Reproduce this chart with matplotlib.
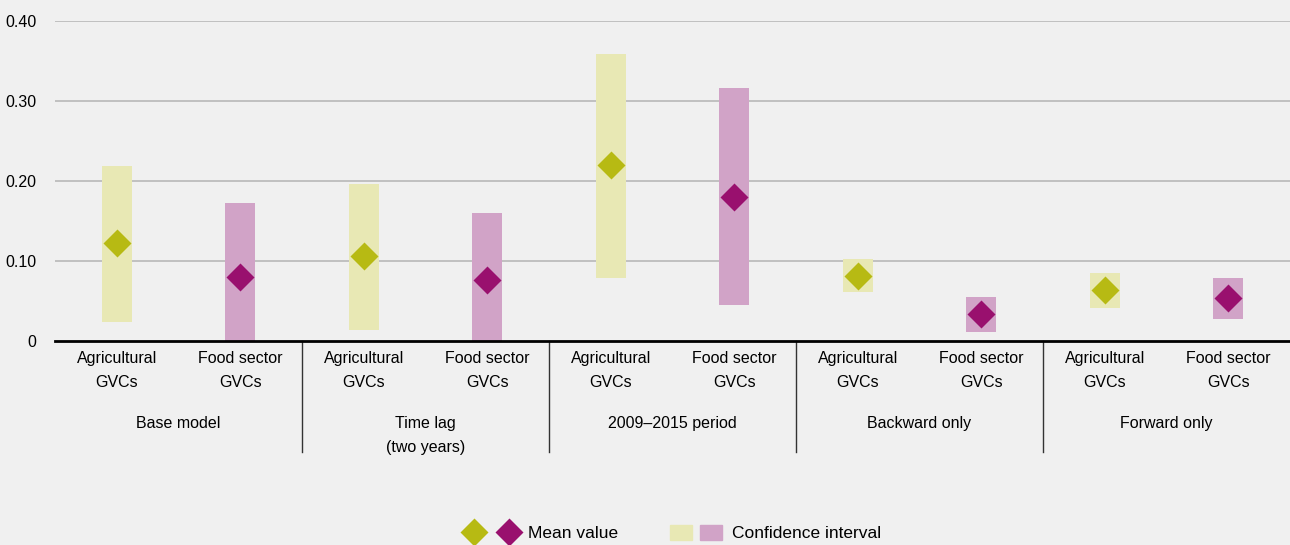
import numpy as np
import matplotlib
matplotlib.use("Agg")
import matplotlib.pyplot as plt
from matplotlib.lines import Line2D
from matplotlib.patches import Patch
from matplotlib.legend_handler import HandlerTuple

plt.rcParams["font.family"] = ["Liberation Sans", "DejaVu Sans"]

groups = ["Base model", "Time lag\n(two years)", "2009\u20132015 period", "Backward only", "Forward only"]
sectors = ["Agricultural\nGVCs", "Food sector\nGVCs"]

# mean values and confidence interval bounds, per group: [agricultural, food]
mean_val = [[0.122, 0.080], [0.106, 0.076], [0.220, 0.180], [0.081, 0.033], [0.063, 0.053]]
ci_low = [[0.024, 0.0], [0.013, 0.0], [0.078, 0.045], [0.061, 0.011], [0.041, 0.027]]
ci_high = [[0.218, 0.172], [0.196, 0.160], [0.358, 0.316], [0.102, 0.055], [0.085, 0.078]]

bg = "#f0f0f0"
mean_col = ["#b7ba13", "#99106e"]
ci_col = ["#e8e8b4", "#d1a3c7"]

fig = plt.figure(figsize=(12.9, 5.45), dpi=100, facecolor=bg)
ax = fig.add_axes([55 / 1290, 1 - 340.7 / 545, 1 - 55 / 1290, 320 / 545])
ax.set_facecolor(bg)

for g in range(len(groups)):
    for s in range(2):
        x = 2 * g + s + 0.5
        ax.bar(x, ci_high[g][s] - ci_low[g][s], bottom=ci_low[g][s], width=0.245,
               color=ci_col[s], zorder=2)
        ax.plot(x, mean_val[g][s], marker="D", ms=14.5, color=mean_col[s],
                mec="none", zorder=3)

ax.set_xlim(0, 10)
ax.set_ylim(0, 0.4)
ax.set_yticks([0, 0.1, 0.2, 0.3, 0.4])
ax.set_yticklabels(["0", "0.10", "0.20", "0.30", "0.40"])
ax.tick_params(axis="y", length=0, pad=13.5, labelsize=11.5)
ax.set_xticks([])
for sp in ax.spines.values():
    sp.set_visible(False)
for yv in [0.1, 0.2, 0.3, 0.4]:
    ax.axhline(yv, color="#b3b3b3", lw=1.1, zorder=1)
ax.axhline(0, color="black", lw=2, zorder=4, clip_on=False)

tr = ax.get_xaxis_transform()
for g in range(len(groups)):
    for s in range(2):
        ax.text(2 * g + s + 0.5, -0.092, sectors[s], transform=tr, ha="center",
                va="center", fontsize=11.5, linespacing=1.75)
    ax.text(2 * g + 1, -0.234, groups[g], transform=tr, ha="center", va="top",
            fontsize=11.5, linespacing=1.75)
for xs in [2, 4, 6, 8]:
    ax.plot([xs, xs], [0, -0.348], transform=tr, color="#333333", lw=1,
            clip_on=False)

mean_h = (Line2D([], [], ls="none", marker="D", ms=14, color=mean_col[0], mec="none"),
          Line2D([], [], ls="none", marker="D", ms=14, color=mean_col[1], mec="none"))
ci_h = (Patch(color=ci_col[0]), Patch(color=ci_col[1]))
fig.legend([mean_h, ci_h], ["Mean value", "Confidence interval"], ncol=2, loc="lower center",
           bbox_to_anchor=(0.522, -0.022), frameon=False, fontsize=12.5,
           handler_map={mean_h: HandlerTuple(ndivide=None, pad=1.0),
                        ci_h: HandlerTuple(ndivide=None, pad=0.45)},
           handlelength=3.0, handleheight=1.0, columnspacing=3.0, handletextpad=0.6)

fig.savefig("out.png", dpi=100, facecolor=bg)
